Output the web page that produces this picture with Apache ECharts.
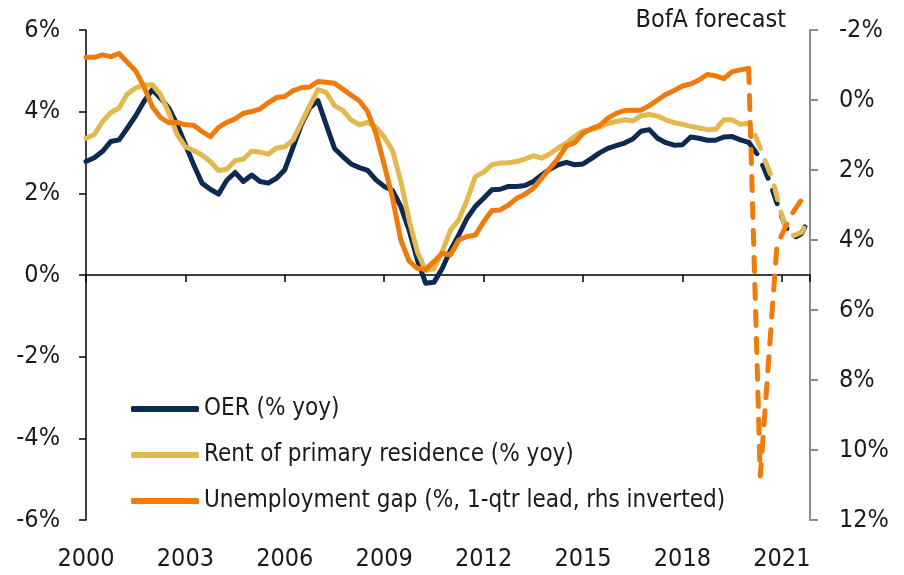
<!DOCTYPE html>
<html>
<head>
<meta charset="UTF-8">
<title>OER, rent and unemployment gap</title>
<script type="text/javascript" src="https://cdn.jsdelivr.net/npm/echarts@6/dist/echarts.min.js"></script>
<style>
  html, body { margin: 0; padding: 0; background: #fff; }
</style>
</head>
<body>
<div id="chartmain" style="width: 904px; height: 575px;"></div>
<script type="text/javascript">
// quarterly history, 2000Q1 .. 2020Q1
var startYear = 2000;
var oer = [2.78, 2.87, 3.03, 3.27, 3.31, 3.60, 3.90, 4.25, 4.54, 4.33,
           4.09, 3.68, 3.19, 2.70, 2.25, 2.10, 1.98, 2.32, 2.51, 2.29,
           2.45, 2.29, 2.25, 2.37, 2.58, 3.13, 3.68, 4.09, 4.27, 3.68,
           3.10, 2.90, 2.72, 2.63, 2.56, 2.33, 2.17, 2.07, 1.68, 1.10,
           0.37, -0.20, -0.18, 0.16, 0.61, 0.98, 1.39, 1.68, 1.88, 2.09,
           2.10, 2.17, 2.17, 2.19, 2.29, 2.45, 2.59, 2.70, 2.76, 2.70,
           2.72, 2.85, 2.99, 3.10, 3.17, 3.23, 3.33, 3.52, 3.56, 3.35,
           3.24, 3.18, 3.19, 3.38, 3.35, 3.30, 3.30, 3.38, 3.39, 3.31,
           3.25];
var rent = [3.35, 3.44, 3.76, 3.98, 4.09, 4.44, 4.58, 4.65, 4.66, 4.42,
            3.97, 3.44, 3.14, 3.05, 2.94, 2.78, 2.56, 2.59, 2.80, 2.84,
            3.03, 3.01, 2.96, 3.11, 3.14, 3.31, 3.73, 4.14, 4.54, 4.47,
            4.15, 4.03, 3.80, 3.68, 3.74, 3.62, 3.38, 3.05, 2.30, 1.35,
            0.57, 0.11, 0.15, 0.57, 1.10, 1.35, 1.84, 2.41, 2.52, 2.70,
            2.74, 2.75, 2.78, 2.84, 2.92, 2.86, 2.97, 3.11, 3.23, 3.39,
            3.53, 3.56, 3.62, 3.71, 3.76, 3.80, 3.77, 3.90, 3.93, 3.89,
            3.80, 3.73, 3.69, 3.64, 3.60, 3.56, 3.57, 3.80, 3.80, 3.69,
            3.72];
var gap = [-1.22, -1.22, -1.29, -1.24, -1.33, -1.07, -0.83, -0.38, 0.19, 0.50,
           0.65, 0.64, 0.71, 0.72, 0.90, 1.05, 0.78, 0.64, 0.54, 0.38,
           0.33, 0.26, 0.08, -0.07, -0.10, -0.27, -0.35, -0.37, -0.53, -0.51,
           -0.48, -0.31, -0.14, 0.02, 0.33, 0.95, 1.85, 2.80, 4.00, 4.60,
           4.81, 4.84, 4.62, 4.38, 4.43, 4.00, 3.90, 3.86, 3.48, 3.16,
           3.14, 3.00, 2.81, 2.69, 2.52, 2.24, 1.95, 1.67, 1.31, 1.22,
           0.95, 0.82, 0.73, 0.52, 0.38, 0.30, 0.29, 0.29, 0.16, 0.00,
           -0.16, -0.27, -0.40, -0.46, -0.57, -0.73, -0.69, -0.61, -0.81, -0.86,
           -0.90];

// BofA forecast paths (dashed)
var oerFcDates = [2020.0, 2020.25, 2020.45, 2020.66, 2020.92, 2021.12, 2021.38, 2021.59, 2021.85];
var oerFc = [3.25, 2.97, 2.64, 2.22, 1.60, 1.17, 0.92, 1.01, 1.42];
var rentFcDates = [2020.0, 2020.16, 2020.45, 2020.72, 2020.93, 2021.09, 2021.35, 2021.6, 2021.75];
var rentFc = [3.72, 3.50, 2.89, 2.34, 1.67, 1.21, 0.96, 1.05, 1.26];
var gapFcDates = [2020.0, 2020.35, 2020.85, 2021.0, 2021.28, 2021.5, 2021.77];
var gapFc = [-0.90, 10.74, 4.17, 3.85, 3.29, 2.98, 2.60];

var names = ['OER (% yoy)', 'Rent of primary residence (% yoy)', 'Unemployment gap (%, 1-qtr lead, rhs inverted)'];
var colors = ['#0c2a52', '#e3b94f', '#ee7b0b'];

// no narrow face installed, condensed fallback at a smaller size
var font = "'Liberation Sans Narrow', 'Arial Narrow', 'DejaVu Sans Condensed', sans-serif";
var fs = 25;

function quarterly(vals) {
	var out = [];
	for (var i = 0; i < vals.length; i++) {
		out.push([startYear + i / 4, vals[i]]);
	}
	return out;
}
function pairs(dates, vals) {
	return dates.map(function (d, i) { return [d, vals[i]]; });
}

var myChart = echarts.init(document.getElementById('chartmain'));

var solid = function (name, data, color, yIdx) {
	return {
		name: name, type: 'line', data: data, yAxisIndex: yIdx,
		showSymbol: false, silent: true, animation: false,
		lineStyle: { color: color, width: 5, cap: 'round', join: 'round' },
		itemStyle: { color: color }
	};
};
var dashed = function (name, data, color, yIdx, offset) {
	return {
		name: name, type: 'line', data: data, yAxisIndex: yIdx,
		showSymbol: false, silent: true, animation: false,
		lineStyle: { color: color, width: 5, type: [14, 13], dashOffset: offset, cap: 'round', join: 'round' },
		itemStyle: { color: color }
	};
};

myChart.setOption({
	animation: false,
	textStyle: { fontFamily: font },
	grid: { left: 86, right: 94, top: 30, bottom: 55, containLabel: false },
	legend: {
		data: names,
		orient: 'vertical',
		left: 126, top: 389,
		itemWidth: 68, itemHeight: 6, itemGap: 16,
		icon: 'roundRect',
		textStyle: { fontFamily: font, fontSize: 24, color: '#1a1a1a', lineHeight: 30 }
	},
	graphic: [{
		type: 'text', right: 118, top: 8,
		style: { text: 'BofA forecast', font: fs + "px 'Liberation Sans Narrow', 'Arial Narrow', 'DejaVu Sans Condensed', sans-serif", fill: '#1a1a1a' }
	}],
	xAxis: [{
		type: 'value', min: 2000, max: 2021.85, interval: 3,
		position: 'bottom',
		axisLine: { onZero: true, onZeroAxisIndex: 0, lineStyle: { color: '#000', width: 1.5 } },
		axisTick: { show: true, inside: false, length: 7, lineStyle: { color: '#000', width: 1.5 } },
		axisLabel: { show: false },
		splitLine: { show: false }
	}, {
		type: 'value', min: 2000, max: 2021.85, interval: 3,
		position: 'bottom',
		axisLine: { show: false, onZero: false },
		axisTick: { show: false },
		axisLabel: { show: true, margin: 27, fontSize: fs, color: '#1a1a1a', fontFamily: font, showMaxLabel: false,
			formatter: function (v) { return String(Math.round(v)); } },
		splitLine: { show: false }
	}],
	yAxis: [{
		type: 'value', min: -6, max: 6, interval: 2, position: 'left',
		axisLine: { show: true, onZero: false, lineStyle: { color: '#000', width: 1.5 } },
		axisTick: { show: true, length: 7, lineStyle: { color: '#000', width: 1.5 } },
		axisLabel: { margin: 26, fontSize: fs, color: '#1a1a1a', fontFamily: font, formatter: '{value}%' },
		splitLine: { show: false }
	}, {
		type: 'value', min: -2, max: 12, interval: 2, position: 'right', inverse: true,
		axisLine: { show: true, onZero: false, lineStyle: { color: '#8c8c8c', width: 2 } },
		axisTick: { show: true, length: 8, lineStyle: { color: '#8c8c8c', width: 2 } },
		axisLabel: { margin: 29, fontSize: fs, color: '#1a1a1a', fontFamily: font, formatter: '{value}%' },
		splitLine: { show: false }
	}],
	series: [
		solid(names[0], quarterly(oer), colors[0], 0),
		solid(names[1], quarterly(rent), colors[1], 0),
		solid(names[2], quarterly(gap), colors[2], 1),
		dashed('OER forecast', pairs(oerFcDates, oerFc), colors[0], 0, 0),
		dashed('Rent forecast', pairs(rentFcDates, rentFc), colors[1], 0, 13),
		dashed('Gap forecast', pairs(gapFcDates, gapFc), colors[2], 1, 0)
	]
});
</script>
</body>
</html>
